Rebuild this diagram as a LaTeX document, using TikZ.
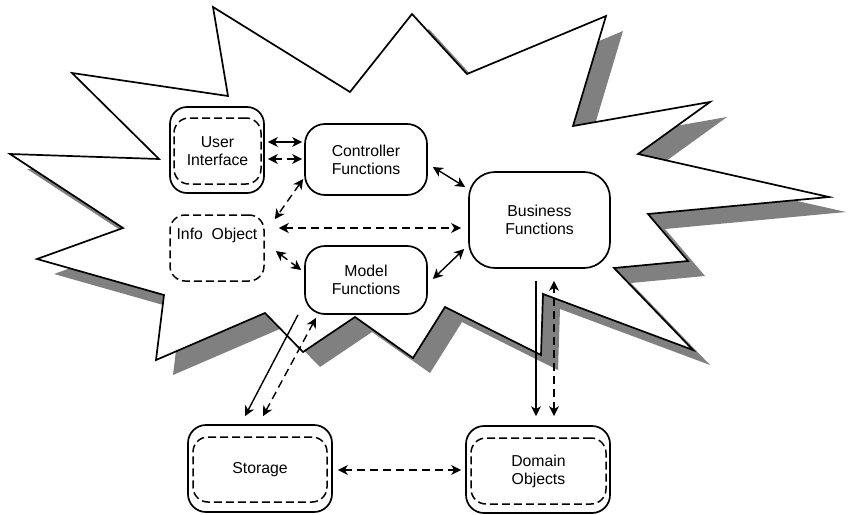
\documentclass[tikz,border=0pt]{standalone}
\usepackage{fontspec}
\setmainfont{Liberation Sans}
\usetikzlibrary{arrows.meta,calc}
\begin{document}
\begin{tikzpicture}[x=1pt,y=-1pt,
  >={Stealth[length=10pt,width=10pt,inset=3pt]},
  lbl/.style={font=\fontsize{15.8}{18}\selectfont, align=center, text=black},
  solidbox/.style={draw, line width=1.7pt, rounded corners=18pt, fill=white, inner sep=0pt, lbl},
  dashbox/.style={draw, line width=1.5pt, dash pattern=on 8pt off 4pt, rounded corners=15pt, inner sep=0pt, lbl},
  link/.style={line width=1.4pt, <->},
  dlink/.style={link, dash pattern=on 8pt off 5pt},
  oneway/.style={line width=1.4pt, ->},
  burstline/.style={draw=black, fill=white, line width=1.7pt, line join=miter},
  burstshadow/.style={fill=black!50}
]
\useasboundingbox (0,0) rectangle (848,514);

% shadow of the burst
\path[burstshadow, shift={(17,15)}]
  (10,154) -- (159,159) -- (72,73) -- (228,96) -- (213,7) -- (350,92) --
  (412,14) -- (467,74) -- (606,16) -- (573,126) -- (710,102) -- (638,154) --
  (829,197) -- (648,214) -- (688,261) -- (614,268) -- (693,350) -- (543,294) --
  (541,355) -- (445,307) -- (413,358) -- (355,317) -- (303,352) -- (265,313) --
  (156,360) -- (164,295) -- (37,259) -- (123,228) -- cycle;

% the burst itself
\path[burstline]
  (10,154) -- (159,159) -- (72,73) -- (228,96) -- (213,7) -- (350,92) --
  (412,14) -- (467,74) -- (606,16) -- (573,126) -- (710,102) -- (638,154) --
  (829,197) -- (648,214) -- (688,261) -- (614,268) -- (693,350) -- (543,294) --
  (541,355) -- (445,307) -- (413,358) -- (355,317) -- (303,352) -- (265,313) --
  (156,360) -- (164,295) -- (37,259) -- (123,228) -- cycle;

% components
\node[solidbox, rounded corners=17pt, minimum width=94pt, minimum height=86pt] (ui) at (217,150) {};
\node[dashbox, minimum width=87pt, minimum height=66pt] (uiin) at (217.5,151) {User\\Interface};

\node[solidbox, rounded corners=20pt, minimum width=122pt, minimum height=71pt] (ctrl) at (366,159.5) {Controller\\Functions};
\node[solidbox, rounded corners=20pt, minimum width=122pt, minimum height=68pt] (model) at (366,280) {Model\\Functions};
\node[solidbox, rounded corners=26pt, minimum width=141pt, minimum height=96pt] (biz) at (539.5,220) {Business\\Functions};

\node[dashbox, minimum width=94pt, minimum height=66pt] (info) at (217,248) {};
\node[lbl, inner sep=0pt] (infotext) at (217,235) {Info\ \ Object};

\node[solidbox, minimum width=144pt, minimum height=87pt] (store) at (260,468.5) {};
\node[dashbox, minimum width=134pt, minimum height=65pt] (storein) at (260,469.5) {Storage};

\node[solidbox, minimum width=144pt, minimum height=87pt] (dom) at (538,469.5) {};
\node[dashbox, minimum width=135pt, minimum height=66pt] (domin) at (538.5,471) {Domain\\Objects};

% connectors
\draw[link]  ($(ui.east)+(3,-8)$) -- ($(ctrl.west)+(-2,-17.5)$);
\draw[dlink] ($(ui.east)+(3,9)$) -- ($(ctrl.west)+(-2,-0.5)$);
\draw[dlink] ($(ctrl.west)+(-1,19.5)$) -- ($(info.north east)+(10,5)$);
\draw[dlink] ($(info.east)+(14,-20)$) -- ($(biz.west)+(-7,8)$);
\draw[dlink] ($(info.east)+(11,3)$) -- ($(model.west)+(-3,-10)$);
\draw[link]  ($(ctrl.east)+(5,7.5)$) -- ($(biz.west)+(-3,-33)$);
\draw[link]  ($(model.east)+(5,-1)$) -- ($(biz.west)+(-4,29)$);
\draw[oneway] ($(model.south)+(-68,0)$) -- ($(store.north)+(-15,-8)$);
\draw[dlink] ($(store.north)+(3,-8)$) -- ($(model.south)+(-50,3)$);
\draw[oneway] ($(biz.south)+(-3.5,12)$) -- ($(dom.north)+(-2,-9)$);
\draw[dlink] ($(dom.north)+(16,-9)$) -- ($(biz.south)+(14.5,12)$);
\draw[dlink] ($(store.east)+(5,1.5)$) -- ($(dom.west)+(-4,0.5)$);
\end{tikzpicture}
\end{document}
